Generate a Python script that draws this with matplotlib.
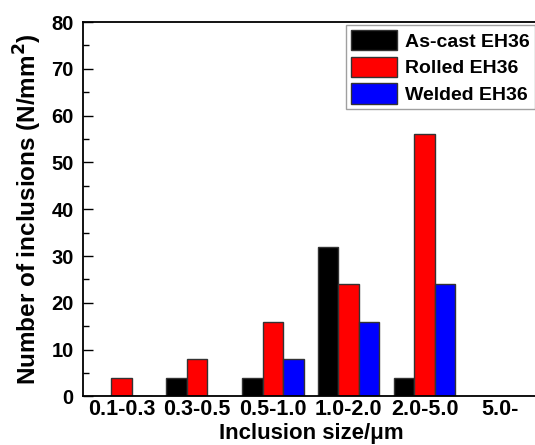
import numpy as np
import matplotlib
matplotlib.use("Agg")
import matplotlib.pyplot as plt

plt.rcParams["font.family"] = ["Liberation Sans", "DejaVu Sans"]
plt.rcParams["font.weight"] = "bold"
plt.rcParams["mathtext.default"] = "bf"

# Data
categories = ["0.1-0.3", "0.3-0.5", "0.5-1.0", "1.0-2.0", "2.0-5.0", "5.0-"]
as_cast = [0, 4, 4, 32, 4, 0]
rolled = [4, 8, 16, 24, 56, 0]
welded = [0, 0, 8, 16, 24, 0]
series_names = ["As-cast EH36", "Rolled EH36", "Welded EH36"]
colors = ["black", "red", "blue"]

fig = plt.figure(figsize=(5.35, 4.45), dpi=100)
# axes runs a little past the right edge, like the cropped original
ax = fig.add_axes([0.156, 0.109, 0.85, 0.8415])

x = np.arange(len(categories))
w = 0.27
for k, (vals, name, c) in enumerate(zip([as_cast, rolled, welded], series_names, colors)):
    ax.bar(x + (k - 1) * w, vals, width=w, color=c, edgecolor="#333333",
           linewidth=1.0, label=name)

ax.set_xlim(-0.5, len(categories) - 0.5)
ax.set_ylim(0, 80)
ax.set_xticks(x)
ax.set_xticklabels(categories, fontsize=15.5, fontweight="bold")
ax.set_yticks(np.arange(0, 81, 10))
ax.set_yticks(np.arange(5, 80, 10), minor=True)
ax.tick_params(axis="y", direction="in", length=7, width=1, labelsize=14.5, pad=7)
ax.tick_params(axis="y", which="minor", direction="in", length=4, width=1)
ax.tick_params(axis="x", length=0, pad=1.5)
for lbl in ax.get_yticklabels():
    lbl.set_fontweight("bold")

ax.set_xlabel("Inclusion size/\u03bcm", fontsize=16, fontweight="bold",
              va="bottom")
# pin the x label to the bottom edge of the figure
ax.xaxis.set_label_coords(0.5, -0.126)
ax.set_ylabel("Number of inclusions (N/mm$^2$)", fontsize=17.5,
              fontweight="bold", labelpad=5)

for sp in ax.spines.values():
    sp.set_linewidth(1.3)

leg = ax.legend(loc="upper right", bbox_to_anchor=(0.993, 0.992), fontsize=14,
                frameon=True, fancybox=False, edgecolor="#888888",
                handlelength=2.37, handleheight=1.25, labelspacing=0.3,
                handletextpad=0.45, borderpad=0.25, borderaxespad=0.0)
leg.get_frame().set_linewidth(1.0)
for t in leg.get_texts():
    t.set_fontweight("bold")

fig.savefig("out.png", dpi=100)
